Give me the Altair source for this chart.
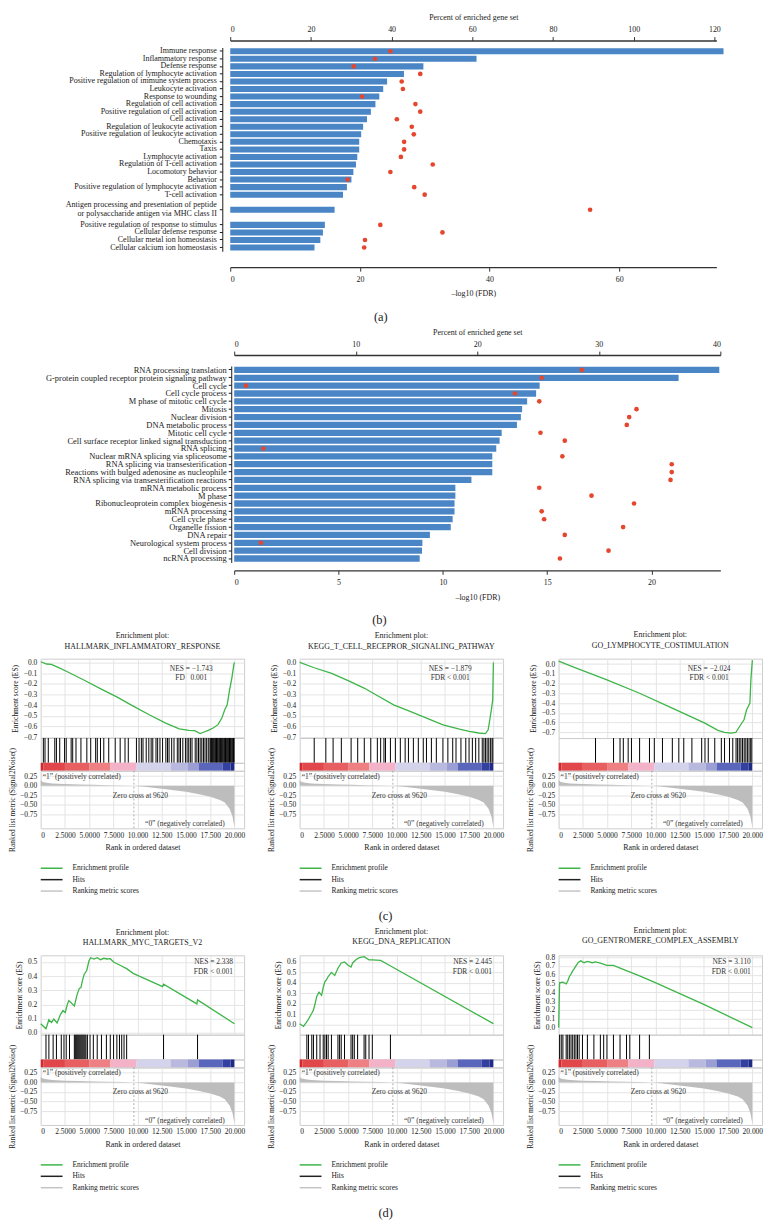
import altair as alt
import pandas as pd

FONT = "Liberation Serif"
BAR_COLOR = "#4a86c6"
DOT_COLOR = "#e4462e"
GREEN = "#3db548"
GRID = "#e4e4e4"
FRAME = "#cccccc"
INK = "#1a1a1a"
TXT = "#333333"

# ---------------- panel (a) ----------------
a_terms = [
    "Immune response", "Inflammatory response", "Defense response",
    "Regulation of lymphocyte activation", "Positive regulation of immune system process",
    "Leukocyte activation", "Response to wounding", "Regulation of cell activation",
    "Positive regulation of cell activation", "Cell activation",
    "Regulation of leukocyte activation", "Positive regulation of leukocyte activation",
    "Chemotaxis", "Taxis", "Lymphocyte activation", "Regulation of T-cell activation",
    "Locomotory behavior", "Behavior", "Positive regulation of lymphocyte activation",
    "T-cell activation",
    "Antigen processing and presentation of peptide|or polysaccharide antigen via MHC class II",
    "Positive regulation of response to stimulus", "Cellular defense response",
    "Cellular metal ion homeostasis", "Cellular calcium ion homeostasis",
]
a_log_fdr = [76.1, 38.0, 29.8, 26.8, 24.2, 23.6, 23.0, 22.4, 21.7, 21.1, 20.5, 20.2, 19.9,
             19.9, 19.6, 19.4, 19.0, 18.7, 18.0, 17.4, 16.1, 14.6, 14.3, 13.9, 13.0]
a_percent = [39.7, 35.9, 30.6, 47.1, 42.5, 42.8, 32.7, 45.9, 47.1, 41.3, 45.0, 45.5, 43.1,
             43.1, 42.3, 50.2, 39.7, 29.1, 45.6, 48.2, 89.2, 37.2, 52.6, 33.4, 33.2]
a_fdr_ticks = [0, 20, 40, 60]
a_pct_ticks = [0, 20, 40, 60, 80, 100, 120]

# ---------------- panel (b) ----------------
b_terms = [
    "RNA processing translation", "G-protein coupled receptor protein signaling pathway",
    "Cell cycle", "Cell cycle process", "M phase of mitotic cell cycle", "Mitosis",
    "Nuclear division", "DNA metabolic process", "Mitotic cell cycle",
    "Cell surface receptor linked signal transduction", "RNA splicing",
    "Nuclear mRNA splicing via spliceosome", "RNA splicing via transesterification",
    "Reactions with bulged adenosine as nucleophile",
    "RNA splicing via transesterification reactions", "mRNA metabolic process", "M phase",
    "Ribonucleoprotein complex biogenesis", "mRNA processing", "Cell cycle phase",
    "Organelle fission", "DNA repair", "Neurological system process", "Cell division",
    "ncRNA processing",
]
b_log_fdr = [23.25, 21.3, 14.64, 14.47, 14.04, 13.8, 13.74, 13.55, 12.82, 12.72, 12.56, 12.37,
             12.37, 12.37, 11.37, 10.6, 10.6, 10.56, 10.56, 10.47, 10.38, 9.38, 9.02, 9.0, 8.89]
b_percent = [28.6, 25.3, 0.96, 23.1, 25.1, 33.1, 32.5, 32.3, 25.2, 27.2, 2.4, 27.0, 36.0,
             36.0, 35.9, 25.1, 29.4, 32.9, 25.3, 25.5, 32.0, 27.2, 2.2, 30.8, 26.8]
b_fdr_ticks = [0, 5, 10, 15, 20]
b_pct_ticks = [0, 10, 20, 30, 40]

# ---------------- GSEA panels ----------------
rank_ticks = [0, 2500, 5000, 7500, 10000, 12500, 15000, 17500, 20000]
rank_tick_labels = ["0", "2.5000", "5.0000", "7.5000", "10.000", "12.500", "15.000", "17.500", "20.000"]
metric_ticks = [0.25, 0.0, -0.25, -0.5, -0.75]

metric_rank = [0, 200, 600, 1200, 2500, 4000, 5500, 7000, 8500, 9620, 10500, 12500, 15000,
               16500, 17500, 18500, 19000, 19500, 19800, 20000]
metric_val = [0.14, 0.10, 0.08, 0.06, 0.045, 0.035, 0.025, 0.015, 0.007, 0.0, -0.02, -0.08,
              -0.16, -0.23, -0.29, -0.37, -0.44, -0.60, -0.80, -1.08]
zero_cross = 9620

seg_start = [0, 300, 2500, 5000, 7200, 9900, 13400, 15200, 16300, 18800, 19600]
seg_end = [300, 2500, 5000, 7200, 9900, 13400, 15200, 16300, 18800, 19600, 20000]
seg_color = ["#d7262b", "#e1474a", "#e85f62", "#ee7f82", "#f3b2c8", "#d3d3ec", "#b9b9e0",
             "#9b9dd5", "#5a66bb", "#3340a0", "#1e2a85"]

legend_labels = ["Enrichment profile", "Hits", "Ranking metric scores"]
legend_colors = [GREEN, "#222222", "#c4c4c4"]

c_names = ["HALLMARK_INFLAMMATORY_RESPONSE", "KEGG_T_CELL_RECEPROR_SIGNALING_PATHWAY",
           "GO_LYMPHOCYTE_COSTIMULATION"]
c_nes = ["NES = −1.743", "NES = −1.879", "NES = −2.024"]
c_fdr = ["FD\u2002 0.001", "FDR < 0.001", "FDR < 0.001"]

c1_rank = [0, 600, 1100, 1800, 2800, 4500, 6200, 7900, 9500, 11200, 12900, 14300, 15300, 15900,
           16460, 16800, 17300, 17800, 18300, 18700, 19000, 19250, 19500, 19730, 19930, 20000]
c1_es = [0.006, -0.015, -0.019, -0.046, -0.09, -0.167, -0.248, -0.325, -0.406, -0.489, -0.567,
         -0.622, -0.635, -0.638, -0.666, -0.653, -0.635, -0.613, -0.582, -0.52, -0.443, -0.396,
         -0.257, -0.149, -0.025, 0.0]
c2_rank = [0, 1500, 3300, 5000, 6700, 8000, 9700, 11400, 13100, 14800, 16500, 17500, 18500,
           19180, 19460, 19630, 19790, 19930, 20000]
c2_es = [0.0, -0.05, -0.102, -0.17, -0.242, -0.31, -0.397, -0.458, -0.52, -0.583, -0.623, -0.644,
         -0.66, -0.666, -0.63, -0.536, -0.443, -0.35, 0.0]
c3_rank = [0, 1620, 4990, 8360, 11730, 15100, 16450, 17120, 17800, 18300, 18470, 18800, 19140,
           19410, 19580, 19750, 19850, 20000]
c3_es = [0.03, -0.034, -0.163, -0.299, -0.452, -0.605, -0.68, -0.70, -0.707, -0.70, -0.673,
         -0.622, -0.571, -0.469, -0.435, -0.40, -0.163, 0.04]

c1_hits = [270, 440, 780, 1450, 1620, 1960, 2460, 2630, 3140, 3300, 3640, 4150, 4760, 5160,
           5670, 5840, 6170, 6510, 7020, 7690, 8200, 8700, 9040, 9880, 10150, 10390, 10560,
           10890, 11160, 11400, 11570, 11900, 12070, 12310, 12580, 12920, 13090, 13250, 13520,
           13760, 14100, 14270, 14430, 14670, 14940, 15110, 15280, 15450, 15620, 15950, 16120,
           16290, 16460, 16630, 16800, 16960, 17130, 17300, 17470, 17550, 17640, 17720, 17810,
           17890, 17980, 18060, 18150, 18230, 18310, 18400, 18480, 18570, 18650, 18740, 18820,
           18910, 18990, 19080, 19160, 19250, 19330, 19410, 19490, 19580, 19660, 19750, 19830,
           19900, 19970]
c2_hits = [1500, 2700, 3450, 4300, 5310, 5990, 6670, 7340, 8020, 8360, 8700, 8860, 9370, 9880,
           10390, 10890, 11230, 11740, 12250, 12760, 13090, 13600, 14110, 14790, 15300, 15800,
           16140, 16650, 17150, 17490, 17830, 18170, 18500, 18850, 19020, 19180, 19350, 19520,
           19690, 19860, 19950]
c3_hits = [3810, 5670, 6340, 6680, 7180, 7520, 8360, 9380, 9880, 10720, 11740, 12410, 12920,
           13760, 14770, 15110, 15450, 16120, 16800, 17130, 17640, 17980, 18320, 18480, 18650,
           18820, 18990, 19160, 19330, 19490, 19660, 19830, 19950]

d_names = ["HALLMARK_MYC_TARGETS_V2", "KEGG_DNA_REPLICATION", "GO_GENTROMERE_COMPLEX_ASSEMBLY"]
d_nes = ["NES = 2.338", "NES = 2.445", "NES = 3.110"]
d_fdr = ["FDR < 0.001", "FDR < 0.001", "FDR < 0.001"]

d1_rank = [0, 540, 840, 1110, 1350, 1690, 2020, 2290, 2530, 2730, 2900, 3470, 3740, 3980, 4150,
           4320, 4490, 4750, 4990, 5160, 5500, 5830, 6170, 6510, 6850, 7180, 7520, 8190, 8870,
           9540, 12580, 12680, 16120, 16190, 20000]
d1_es = [0.065, 0.03, 0.093, 0.074, 0.098, 0.07, 0.128, 0.158, 0.144, 0.198, 0.228, 0.19, 0.267,
         0.314, 0.32, 0.372, 0.414, 0.44, 0.51, 0.53, 0.521, 0.53, 0.516, 0.526, 0.521, 0.523,
         0.5, 0.477, 0.453, 0.42, 0.326, 0.344, 0.205, 0.233, 0.065]
d2_rank = [0, 400, 740, 910, 1250, 1420, 1590, 1760, 1990, 2260, 2430, 2600, 2770, 2940, 3280,
           3620, 3950, 4290, 4630, 4970, 5300, 5470, 5810, 6150, 6650, 7160, 7500, 8350, 9020,
           20000]
d2_es = [0.01, -0.016, 0.03, 0.054, 0.11, 0.14, 0.2, 0.27, 0.31, 0.28, 0.357, 0.41, 0.43, 0.46,
         0.5, 0.47, 0.54, 0.59, 0.6, 0.57, 0.55, 0.59, 0.62, 0.64, 0.65, 0.62, 0.62, 0.615, 0.58,
         0.01]
d3_rank = [0, 100, 440, 780, 940, 1110, 1280, 1450, 1620, 1790, 2020, 2290, 2630, 2970, 3470,
           3810, 4310, 4990, 5660, 6670, 8360, 10040, 15100, 20000]
d3_es = [0.0, 0.507, 0.514, 0.496, 0.525, 0.58, 0.607, 0.643, 0.67, 0.70, 0.74, 0.757, 0.736,
         0.75, 0.736, 0.746, 0.73, 0.707, 0.705, 0.66, 0.586, 0.507, 0.257, 0.0]

d1_hits = [540, 840, 1280, 1620, 2120, 2400, 2630, 2970, 3470, 3570, 3670, 3770, 3870, 3970,
           4070, 4170, 4270, 4370, 4470, 4570, 4670, 4820, 5090, 5430, 5830, 6270, 6780, 7180,
           7520, 7860, 8130, 8360, 8600, 8870, 12680, 16190]
d2_hits = [740, 910, 1250, 1420, 1760, 2100, 2430, 2600, 2770, 2940, 3280, 3950, 4120, 4290,
           4630, 5300, 5470, 5640, 5980, 6650, 6820, 7160, 7500, 9370]
d3_hits = [100, 270, 440, 780, 940, 1110, 1280, 1450, 1620, 1790, 1950, 2120, 2460, 2970, 3640,
           4310, 4650, 4990, 5660, 6340, 7010, 7350, 8360, 9370]

# ---------------- builders ----------------
W_G = 205
ES_H, HITS_H, CB_H, MET_H = 80, 25, 8, 58
XS = alt.Scale(domain=[0, 21000], nice=False, zero=False)
rank_label_expr = " : ".join(
    f"datum.value == {v} ? '{l}'" for v, l in zip(rank_ticks, rank_tick_labels)) + " : ''"
no_frame = alt.ViewBackground(stroke="transparent")
frame = alt.ViewBackground(stroke=FRAME, strokeWidth=1)
SPACER_TEST = "indexof(datum.value, 'spacer') == 0"
TWO_LINE_TEST = "indexof(datum.value, '|') >= 0"
LINE_H = 9.5


def blank(width):
    return alt.Chart(pd.DataFrame({"v": [0]})).mark_point(opacity=0).encode(
        x=alt.value(0), y=alt.value(0)).properties(width=width, height=1, view=no_frame)


def enrich_panel(terms, log_fdr, percent, wide_index, fdr_max, fdr_ticks, pct_max,
                 pct_ticks, height, y_offset, label_pad, top_offset, bottom_offset, label_size):
    order = list(terms)
    if wide_index is not None:
        # empty band on both sides of the two-line category
        order = (order[:wide_index] + ["spacer1", order[wide_index], "spacer2"]
                 + order[wide_index + 1:])
    df = pd.DataFrame({"term": terms, "log_fdr": log_fdr, "percent": percent})
    label_expr = (f"{SPACER_TEST} ? '' : ({TWO_LINE_TEST} ? split(datum.value, '|') : datum.value)")
    y_enc = alt.Y(
        "term:N",
        scale=alt.Scale(domain=order, paddingInner=0.2, paddingOuter=0.1),
        axis=alt.Axis(
            title=None, offset=y_offset, tickSize=3, tickColor=INK, domainColor=INK,
            labelPadding=label_pad, labelLimit=400, labelLineHeight=LINE_H,
            labelFontSize=label_size,
            labelOffset={"condition": {"test": TWO_LINE_TEST, "value": -LINE_H / 2}, "value": 0},
            labelExpr=label_expr,
            tickOpacity={"condition": {"test": SPACER_TEST, "value": 0}, "value": 1},
        ),
    )
    bars = alt.Chart(df).mark_bar(color=BAR_COLOR).encode(
        x=alt.X("log_fdr:Q", scale=alt.Scale(domain=[0, fdr_max], nice=False),
                axis=alt.Axis(orient="bottom", values=fdr_ticks, title="–log10 (FDR)",
                              offset=bottom_offset, tickSize=4, labelPadding=4, titlePadding=7,
                              grid=False, domainWidth=1.4, domainColor="#333", tickColor="#333",
                              labelFontSize=8, titleFontSize=8)),
        y=y_enc,
    )
    dots = alt.Chart(df).mark_circle(color=DOT_COLOR, size=22, opacity=1).encode(
        x=alt.X("percent:Q", scale=alt.Scale(domain=[0, pct_max], nice=False),
                axis=alt.Axis(orient="top", values=pct_ticks, title="Percent of enriched gene set",
                              offset=top_offset, tickSize=4, labelPadding=3, titlePadding=4,
                              grid=False, domainWidth=1.4, domainColor="#333", tickColor="#333",
                              labelFontSize=8, titleFontSize=8)),
        y=y_enc,
    )
    return alt.layer(bars, dots).resolve_scale(x="independent").properties(
        width=490, height=height, view=no_frame)


def tag_title(tag):
    return alt.TitleParams(tag, orient="bottom", anchor="middle", fontSize=12.5, offset=13,
                           fontWeight="normal")


def gsea_panel(name, es_rank, es_val, es_domain, es_ticks, hits, nes, fdr,
               nes_align, nes_frac, nes_y):
    es_df = pd.DataFrame({"rank": es_rank, "es": es_val})
    line = alt.Chart(es_df).mark_line(color=GREEN, strokeWidth=1.3).encode(
        x=alt.X("rank:Q", scale=XS,
                axis=alt.Axis(values=rank_ticks, labels=False, ticks=False, domain=False,
                              grid=True, gridColor=GRID, title=None)),
        y=alt.Y("es:Q", scale=alt.Scale(domain=es_domain, nice=False, zero=False),
                axis=alt.Axis(values=es_ticks, format=".1f", grid=True, gridColor=GRID,
                              ticks=False, domain=False, title="Enrichment score (ES)",
                              titlePadding=4, labelPadding=4, labelFontSize=7.5,
                              titleFontSize=7.5)),
    )
    ann_df = pd.DataFrame({"nes": [nes], "fdr": [fdr]})
    nes_t = alt.Chart(ann_df).mark_text(align=nes_align, fontSize=7.5, color=TXT).encode(
        x=alt.value(W_G * nes_frac), y=alt.value(nes_y), text="nes:N")
    fdr_t = alt.Chart(ann_df).mark_text(align=nes_align, fontSize=7.5, color=TXT).encode(
        x=alt.value(W_G * nes_frac), y=alt.value(nes_y + 9.5), text="fdr:N")
    es = alt.layer(line, nes_t, fdr_t).properties(
        width=W_G, height=ES_H, view=frame,
        title=alt.TitleParams(["Enrichment plot:", name], fontSize=8, fontWeight="normal",
                              anchor="middle", frame="group", offset=8, lineHeight=10.5),
    )

    hits_chart = alt.Chart(pd.DataFrame({"rank": hits})).mark_rule(
        color="black", strokeWidth=1).encode(
        x=alt.X("rank:Q", scale=XS, axis=None)).properties(width=W_G, height=HITS_H, view=frame)

    cb_df = pd.DataFrame({"start": seg_start, "end": seg_end, "color": seg_color})
    cb_chart = alt.Chart(cb_df).mark_rect().encode(
        x=alt.X("start:Q", scale=XS, axis=None), x2="end:Q",
        fill=alt.Fill("color:N", scale=None)).properties(width=W_G, height=CB_H, view=frame)

    x_axis = alt.Axis(values=rank_ticks, labelExpr=rank_label_expr,
                      title="Rank in ordered dataset", grid=True, gridColor=GRID, ticks=False,
                      domain=False, labelOverlap=False, labelFontSize=7.5, titleFontSize=8,
                      labelPadding=3, titlePadding=5)
    met_df = pd.DataFrame({"rank": metric_rank, "metric": metric_val})
    area = alt.Chart(met_df).mark_area(color="#bdbdbd").encode(
        x=alt.X("rank:Q", scale=XS, axis=x_axis),
        y=alt.Y("metric:Q", scale=alt.Scale(domain=[-1.11, 0.39], nice=False, zero=False),
                axis=alt.Axis(values=metric_ticks, format=".2f", grid=True, gridColor=GRID,
                              ticks=False, domain=False, labelOverlap=False,
                              title="Ranked list metric (Signal2Noise()", titlePadding=3,
                              labelPadding=4, labelFontSize=7.5, titleFontSize=7.5)),
        y2=alt.datum(0),
    )
    zc_rule = alt.Chart(pd.DataFrame({"rank": [zero_cross]})).mark_rule(
        color="#9a9a9a", strokeDash=[2, 2], strokeWidth=0.8).encode(
        x=alt.X("rank:Q", scale=XS, axis=x_axis))
    txt_df = pd.DataFrame({"pos": ["“1” (positively correlated)"],
                           "zc": [f"Zero cross at {zero_cross}"],
                           "neg": ["“0” (negatively correlated)"]})
    pos_t = alt.Chart(txt_df).mark_text(align="left", fontSize=7.5, color=TXT).encode(
        x=alt.value(2), y=alt.value(6), text="pos:N")
    zc_t = alt.Chart(txt_df).mark_text(align="center", fontSize=7.5, color=TXT).encode(
        x=alt.value(W_G * 0.49), y=alt.value(25), text="zc:N")
    neg_t = alt.Chart(txt_df).mark_text(align="right", fontSize=7.5, color=TXT).encode(
        x=alt.value(W_G * 0.905), y=alt.value(MET_H - 4), text="neg:N")
    met = alt.layer(area, zc_rule, pos_t, zc_t, neg_t).properties(
        width=W_G, height=MET_H, view=frame)

    leg_df = pd.DataFrame({"label": legend_labels, "color": legend_colors})
    leg_domain = [" ", "  ", "   "] + legend_labels
    ly = alt.Y("label:N", scale=alt.Scale(domain=leg_domain, paddingInner=0, paddingOuter=0),
               axis=None)
    leg_rule = alt.Chart(leg_df).mark_rule(strokeWidth=1.5).encode(
        x=alt.value(0), x2=alt.value(22), y=ly, color=alt.Color("color:N", scale=None))
    leg_text = alt.Chart(leg_df).mark_text(align="left", fontSize=7.5, color=INK).encode(
        x=alt.value(32), y=ly, text="label:N")
    legend = alt.layer(leg_rule, leg_text).properties(width=W_G, height=69, view=no_frame)

    return alt.vconcat(es, hits_chart, cb_chart, met, legend, spacing=0, bounds="flush")


panel_a = enrich_panel(a_terms, a_log_fdr, a_percent, 20, 75, a_fdr_ticks, 120.5, a_pct_ticks,
                       205.4, 8, 3, 7, 16, 8.1)
panel_b = enrich_panel(b_terms, b_log_fdr, b_percent, None, 23.3, b_fdr_ticks, 40, b_pct_ticks,
                       198, 3, 2, 11, 8, 8.5)
row_a = alt.hconcat(blank(22), panel_a, spacing=0).properties(title=tag_title("(a)"))
row_b = alt.hconcat(blank(1), panel_b, spacing=0).properties(title=tag_title("(b)"))

c_es = [(c1_rank, c1_es, [-0.707, 0.035], c1_hits),
        (c2_rank, c2_es, [-0.707, 0.035], c2_hits),
        (c3_rank, c3_es, [-0.758, 0.055], c3_hits)]
c_ticks = [0.0, -0.1, -0.2, -0.3, -0.4, -0.5, -0.6, -0.7]
row_c = alt.hconcat(*[
    gsea_panel(c_names[i], r, v, dom, c_ticks, h, c_nes[i], c_fdr[i], "center", 0.74, 10)
    for i, (r, v, dom, h) in enumerate(c_es)
], spacing=21).properties(title=tag_title("(c)"))

d_es = [(d1_rank, d1_es, [-0.012, 0.547], [0.0, 0.1, 0.2, 0.3, 0.4, 0.5], d1_hits),
        (d2_rank, d2_es, [-0.095, 0.663], [0.0, 0.1, 0.2, 0.3, 0.4, 0.5, 0.6], d2_hits),
        (d3_rank, d3_es, [-0.08, 0.82], [0.0, 0.1, 0.2, 0.3, 0.4, 0.5, 0.6, 0.7, 0.8], d3_hits)]
row_d = alt.hconcat(*[
    gsea_panel(d_names[i], r, v, dom, t, h, d_nes[i], d_fdr[i], "right", 0.945, 7)
    for i, (r, v, dom, t, h) in enumerate(d_es)
], spacing=21).properties(title=tag_title("(d)"))

chart = alt.concat(row_a, row_b, row_c, row_d, columns=1, spacing=3, align="none").properties(
    padding=0)

chart = chart.configure(font=FONT).configure_axis(
    labelFont=FONT, titleFont=FONT, titleFontWeight="normal", labelColor=INK, titleColor=INK
).configure_title(font=FONT, fontWeight="normal", color=INK).configure_text(font=FONT)

chart.save("out.html", embed_options={"renderer": "svg", "actions": False})
